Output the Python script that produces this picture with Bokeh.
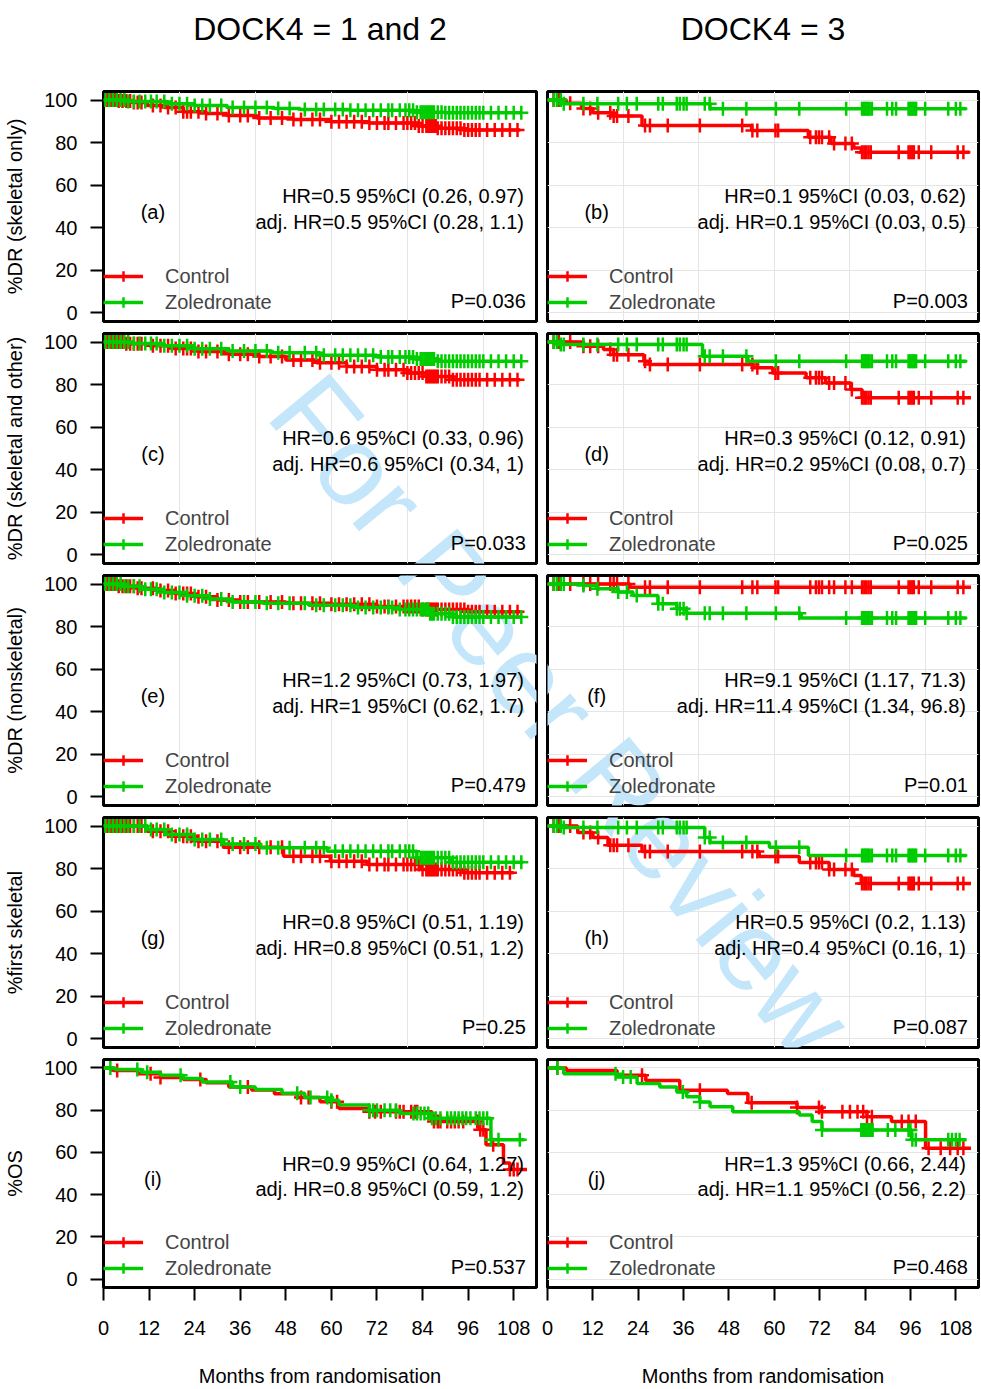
import numpy as np
from bokeh.plotting import figure
from bokeh.layouts import column, row
from bokeh.models import Range1d, Label, FixedTicker
from bokeh.embed import file_html
from bokeh.resources import INLINE

FONT = "Liberation Sans"
RED = "#FF0000"
GREEN = "#00CD00"
WM_COLOR = "#C4E6FA"

X_TICKS = [0, 12, 24, 36, 48, 60, 72, 84, 96, 108]
Y_TICKS = [0, 20, 40, 60, 80, 100]
GROUPS = ["Control", "Zoledronate"]
COL_TITLES = ["DOCK4 = 1 and 2", "DOCK4 = 3"]
ROW_LABELS = ["%DR (skeletal only)", "%DR (skeletal and other)", "%DR (nonskeletal)",
              "%first skeletal", "%OS"]
XLABEL = "Months from randomisation"
LETTERS = ["(a)", "(b)", "(c)", "(d)", "(e)", "(f)", "(g)", "(h)", "(i)", "(j)"]
HR_TEXT = ["HR=0.5 95%CI (0.26, 0.97)", "HR=0.1 95%CI (0.03, 0.62)",
           "HR=0.6 95%CI (0.33, 0.96)", "HR=0.3 95%CI (0.12, 0.91)",
           "HR=1.2 95%CI (0.73, 1.97)", "HR=9.1 95%CI (1.17, 71.3)",
           "HR=0.8 95%CI (0.51, 1.19)", "HR=0.5 95%CI (0.2, 1.13)",
           "HR=0.9 95%CI (0.64, 1.27)", "HR=1.3 95%CI (0.66, 2.44)"]
ADJ_TEXT = ["adj. HR=0.5 95%CI (0.28, 1.1)", "adj. HR=0.1 95%CI (0.03, 0.5)",
            "adj. HR=0.6 95%CI (0.34, 1)", "adj. HR=0.2 95%CI (0.08, 0.7)",
            "adj. HR=1 95%CI (0.62, 1.7)", "adj. HR=11.4 95%CI (1.34, 96.8)",
            "adj. HR=0.8 95%CI (0.51, 1.2)", "adj. HR=0.4 95%CI (0.16, 1)",
            "adj. HR=0.8 95%CI (0.59, 1.2)", "adj. HR=1.1 95%CI (0.56, 2.2)"]
P_TEXT = ["P=0.036", "P=0.003", "P=0.033", "P=0.025", "P=0.479",
          "P=0.01", "P=0.25", "P=0.087", "P=0.537", "P=0.468"]
WATERMARK = "For Peer Review"

# ---- censoring times (months) ----
LEFT_CTRL_CENS = [1, 2, 3, 4, 5, 6, 7, 8, 9, 10, 13, 15, 17, 19, 21, 22, 23, 25, 27, 30, 33,
                  36, 38, 41, 44, 47, 50, 52, 55, 57, 60, 62, 64, 66, 68, 70, 72, 74, 75, 77,
                  79, 80, 81, 82, 83, 84, 85, 85.5, 86, 86.5, 87, 87.5, 88, 89, 90, 91, 92,
                  93, 94, 95, 96, 97, 98, 99, 101, 103, 105, 107, 109]
LEFT_ZOL_CENS = [0.5, 1.5, 2.5, 3.5, 4.5, 5.5, 6.5, 8, 9.5, 11, 12.5, 14, 16, 18, 20, 22, 24,
                 26, 28, 31, 34, 37, 40, 43, 46, 49, 53, 56, 58, 61, 63, 65, 67, 69, 71, 73,
                 75, 76, 78, 79.5, 80.5, 81.5, 82.5, 83.5, 84, 84.5, 85, 85.5, 86, 86.5, 87,
                 88, 89, 90, 91, 92, 93, 94, 95, 96, 97, 98, 99, 100, 102, 104, 106, 108, 110]
RIGHT_CTRL_CENS = [1.6, 3, 6, 9.5, 11.3, 13.4, 16.6, 17.5, 18.4, 21.4, 25.8, 27.1, 31.8, 40.3,
                   51.5, 54.2, 55.5, 60.3, 61, 69.5, 71, 71.8, 72.6, 74.5, 75.8, 78.8, 80.5,
                   83.2, 83.8, 84.3, 84.9, 85.5, 92.9, 95.5, 96, 96.5, 96.9, 98.2, 101.5,
                   108.5, 110]
RIGHT_ZOL_CENS = [1.7, 2.5, 3.5, 4.3, 9.5, 13.2, 18.7, 21, 23.6, 29.3, 30.5, 34.2, 35, 36,
                  36.8, 41.6, 42.9, 46.4, 52.6, 60.4, 66.6, 79, 83.2, 83.6, 84, 84.4, 84.8,
                  85.2, 85.8, 89.8, 91.2, 92.2, 95.5, 95.9, 96.3, 96.7, 97.1, 97.5, 99.9, 106,
                  108, 109.2]
OS_LEFT_CTRL_CENS = [3.6, 12.4, 15, 25.5, 38, 52, 54, 60, 61.5, 70, 71.5, 73, 77, 78, 79, 81,
                     82, 82.6, 87, 88, 88.7, 90.5, 91.5, 92.5, 93.5, 94.7, 98.4, 99.2, 100,
                     102.6, 107, 108, 109]
OS_LEFT_ZOL_CENS = [1.8, 8.9, 11.5, 20.3, 33.4, 36, 51, 54.5, 58.9, 60, 70, 71, 72, 74, 75.5,
                    77, 81.6, 82.5, 83.5, 84.5, 85.5, 86.5, 87.5, 88.7, 90.5, 91.5, 92.5,
                    93.5, 94.5, 95.5, 96.6, 98, 99, 100, 101, 102, 104, 109.6]
OS_RIGHT_CTRL_CENS = [2.6, 25, 40.3, 54, 66, 71.8, 72.6, 78, 80, 82, 83.5, 84.5, 85.8, 93.7,
                      95.5, 97.4, 100.8, 104, 106.5, 108.5, 110]
OS_RIGHT_ZOL_CENS = [2.6, 18, 20, 22, 35.8, 40.3, 72.6, 83, 83.5, 84, 84.5, 85, 85.5, 86, 90,
                     92, 95.5, 96, 96.5, 97.4, 106, 107, 108, 109]

# ---- Kaplan-Meier step values: event times and survival (%) ----
A_CTRL_T = [0, 4, 8, 11.5, 16, 21, 27, 32.5, 40.4, 50, 59.7, 70, 82.6, 88, 94.7]
A_CTRL_S = [100, 99.5, 98.8, 97.4, 96.5, 94.5, 93.7, 92.7, 91.6, 90.8, 89.8, 89.2, 87.8, 86.8, 85.9]
A_ZOL_T = [0, 6, 16.7, 24, 32.5, 45, 51.8, 65, 82, 90]
A_ZOL_S = [100, 99.3, 98.2, 97.4, 96.5, 96, 95.6, 95.2, 94.3, 94]
B_CTRL_T = [0, 5, 9, 12, 17, 25, 54, 69, 75, 81, 83]
B_CTRL_S = [100, 98.5, 96, 94, 92.5, 88, 85.7, 82.5, 79.6, 77.5, 75.5]
B_ZOL_T = [0, 4, 43]
B_ZOL_S = [100, 98.2, 95.9]
C_CTRL_T = [0, 6, 12, 18, 25, 33, 41, 48, 56, 64, 72, 80, 85, 92]
C_CTRL_S = [100, 99.2, 98.3, 97, 95.5, 94.3, 93.2, 91.5, 90.3, 88.5, 87, 85.5, 83.8, 82.3]
C_ZOL_T = [0, 8, 16, 24, 33, 44, 57, 72, 82, 88]
C_ZOL_S = [100, 99.3, 98.2, 96.8, 95.8, 95, 93.8, 93, 92, 91]
D_CTRL_T = [0, 9.5, 14.8, 17.5, 25.5, 27, 54.3, 59.6, 68.4, 73.6, 80.2, 83.2]
D_CTRL_S = [100, 98, 96.5, 94, 91, 89.4, 87.9, 85.5, 83.2, 80.8, 77.7, 73.8]
D_ZOL_T = [0, 3, 41, 53]
D_ZOL_S = [100, 98.8, 93.3, 91]
E_CTRL_T = [0, 4, 9, 14, 19, 24, 30, 36, 48, 60, 72, 84, 96]
E_CTRL_S = [100, 99, 98, 97, 95.5, 94, 92.5, 91.5, 91, 90.5, 89.5, 88, 87]
E_ZOL_T = [0, 5, 10, 16, 22, 28, 34, 42, 54, 66, 78, 86, 92]
E_ZOL_S = [100, 99, 97.5, 96, 94.5, 93, 91.5, 91, 90, 89, 88, 86, 84.5]
F_CTRL_T = [0, 21.8]
F_CTRL_S = [100, 98.5]
F_ZOL_T = [0, 9.5, 13, 18.7, 22.6, 29.2, 34.2, 36.8, 67.1]
F_ZOL_S = [100, 99.3, 97.8, 96.2, 94.6, 90.7, 88.4, 86.3, 84]
G_CTRL_T = [0, 11.5, 17.6, 24.7, 31.6, 47.4, 59.7, 69.4, 83.4, 94.7]
G_CTRL_S = [100, 97.6, 95.2, 92.9, 90, 85.8, 83.5, 81.9, 79.6, 78]
G_ZOL_T = [0, 11.5, 16.4, 23.9, 31.6, 41.3, 58.9, 82.5, 91.3]
G_ZOL_S = [100, 98.4, 96, 93.7, 91.6, 89.8, 88.2, 85.1, 83]
H_CTRL_T = [0, 8, 12, 16, 25, 56, 66.6, 74.5, 81, 83]
H_CTRL_S = [100, 97, 94.6, 91, 88, 85.7, 82.9, 79.6, 76.8, 73]
H_ZOL_T = [0, 4, 41.6, 43, 58.7, 69]
H_ZOL_S = [100, 99.3, 94.6, 92.3, 90, 86.2]
I_CTRL_T = [0, 2.6, 9, 15, 21, 27, 33, 39, 45, 51, 57, 62, 70, 86.5, 99, 100.7, 105.3, 107]
I_CTRL_S = [100, 98.8, 97.3, 95.5, 94.5, 93, 91, 89.5, 87.8, 86, 84, 80.8, 79.3, 74.6, 70.7, 63.6, 55, 51.9]
I_ZOL_T = [0, 3, 10, 15, 21, 26, 34, 40, 47, 53, 59, 62, 70, 78, 86, 102]
I_ZOL_S = [100, 99.3, 98, 96.5, 95, 93.3, 91, 89.8, 88, 86, 84.7, 82.4, 80, 78.4, 76.2, 66]
J_CTRL_T = [0, 5, 18.4, 26, 35, 47.6, 53, 66, 72.6, 84.5, 91, 100]
J_CTRL_S = [100, 98.8, 96.5, 94, 89.4, 87.9, 83.5, 81.3, 79.3, 76.9, 74.6, 62]
J_ZOL_T = [0, 4.3, 18.4, 23.7, 29.7, 34.2, 36.8, 40.3, 43, 49, 66.6, 70, 72.6, 96.3]
J_ZOL_S = [100, 97.3, 95.7, 92.6, 91, 88.6, 86.3, 83.9, 81.6, 79.2, 77.7, 74.6, 70.6, 66]

# follow-up end of each curve (control, zoledronate)
ENDS = [(109.7, 110.2), (111.6, 110.8), (109.7, 110.2), (112, 110.8), (109.7, 110.2),
        (112, 110.8), (108, 110.5), (112, 110.8), (111.5, 110.8), (112, 110.8)]

PANELS = [
    (A_CTRL_T, A_CTRL_S, A_ZOL_T, A_ZOL_S, LEFT_CTRL_CENS, LEFT_ZOL_CENS),
    (B_CTRL_T, B_CTRL_S, B_ZOL_T, B_ZOL_S, RIGHT_CTRL_CENS, RIGHT_ZOL_CENS),
    (C_CTRL_T, C_CTRL_S, C_ZOL_T, C_ZOL_S, LEFT_CTRL_CENS, LEFT_ZOL_CENS),
    (D_CTRL_T, D_CTRL_S, D_ZOL_T, D_ZOL_S, RIGHT_CTRL_CENS, RIGHT_ZOL_CENS),
    (E_CTRL_T, E_CTRL_S, E_ZOL_T, E_ZOL_S, LEFT_CTRL_CENS, LEFT_ZOL_CENS),
    (F_CTRL_T, F_CTRL_S, F_ZOL_T, F_ZOL_S, RIGHT_CTRL_CENS, RIGHT_ZOL_CENS),
    (G_CTRL_T, G_CTRL_S, G_ZOL_T, G_ZOL_S, LEFT_CTRL_CENS, LEFT_ZOL_CENS),
    (H_CTRL_T, H_CTRL_S, H_ZOL_T, H_ZOL_S, RIGHT_CTRL_CENS, RIGHT_ZOL_CENS),
    (I_CTRL_T, I_CTRL_S, I_ZOL_T, I_ZOL_S, OS_LEFT_CTRL_CENS, OS_LEFT_ZOL_CENS),
    (J_CTRL_T, J_CTRL_S, J_ZOL_T, J_ZOL_S, OS_RIGHT_CTRL_CENS, OS_RIGHT_ZOL_CENS),
]

# ---- layout constants (pixels) ----
X_MAX = 114
Y_MIN, Y_MAX = -4, 104
FRAME_H = 230
FRAME_W = [433, 431]
BORDER_L = [103, 6]
BORDER_R = [5, 3]
TITLE_H = 85
TITLE_CY = 28
TOP0, BOT_LAST, GAP = 6, 100, 6
WM_CENTER = (561, 715)
WM_PANELS = [2, 4, 5, 7]


def surv_at(t, s, c):
    idx = np.searchsorted(np.array(t), np.array(c), side="right") - 1
    return np.array(s)[idx]


# ---- column titles, in their own strip figures ----
title_figs = []
for c in range(2):
    w = BORDER_L[c] + FRAME_W[c] + BORDER_R[c]
    tf = figure(width=w, height=TITLE_H, output_backend="svg", toolbar_location=None,
                x_range=Range1d(0, w), y_range=Range1d(0, TITLE_H),
                x_axis_location=None, y_axis_location=None,
                min_border_left=0, min_border_right=0, min_border_top=0, min_border_bottom=0)
    tf.outline_line_color = None
    tf.background_fill_color = "white"
    tf.border_fill_color = "white"
    tf.grid.visible = False
    tf.add_layout(Label(x=BORDER_L[c] + FRAME_W[c] / 2, y=TITLE_H - TITLE_CY,
                        text=COL_TITLES[c], text_align="center", text_baseline="middle",
                        text_font=FONT, text_font_size="32px", text_color="black"))
    title_figs.append(tf)

rows = [row(*title_figs)]
fig_top = TITLE_H
for r in range(5):
    top = TOP0 if r == 0 else GAP
    bot = BOT_LAST if r == 4 else GAP
    h = top + FRAME_H + bot
    figs = []
    fig_left = 0
    for c in range(2):
        k = 2 * r + c
        w = BORDER_L[c] + FRAME_W[c] + BORDER_R[c]
        p = figure(width=w, height=h, output_backend="svg", toolbar_location=None,
                   x_range=Range1d(0, X_MAX), y_range=Range1d(Y_MIN, Y_MAX),
                   x_axis_location="below" if r == 4 else None,
                   y_axis_location="left" if c == 0 else None,
                   min_border_left=BORDER_L[c], min_border_right=BORDER_R[c],
                   min_border_top=top, min_border_bottom=bot)
        p.outline_line_color = "black"
        p.outline_line_width = 3
        p.background_fill_color = "white"
        p.border_fill_color = "white"
        if c == 0:
            ax = p.yaxis[0]
            ax.ticker = FixedTicker(ticks=Y_TICKS)
            ax.axis_label = ROW_LABELS[r]
            ax.axis_label_standoff = 15
            ax.major_label_standoff = 13
            p.ygrid.grid_line_color = None
        if r == 4:
            ax = p.xaxis[0]
            ax.ticker = FixedTicker(ticks=X_TICKS)
            ax.axis_label = XLABEL
            ax.axis_label_standoff = 27
            ax.major_label_standoff = 20
            p.xgrid.grid_line_color = None
        for ax in p.axis:
            ax.axis_line_color = None
            ax.major_tick_out = 13
            ax.major_tick_in = 0
            ax.minor_tick_out = 0
            ax.minor_tick_in = 0
            ax.major_tick_line_width = 2
            ax.major_label_text_font = FONT
            ax.major_label_text_font_size = "20px"
            ax.major_label_text_color = "black"
            ax.axis_label_text_font = FONT
            ax.axis_label_text_font_size = "20px"
            ax.axis_label_text_font_style = "normal"
            ax.axis_label_text_color = "black"

        ct, cs, zt, zs, cc, zc = PANELS[k]
        ends = ENDS[k]
        # watermark (underneath the curves)
        if k in WM_PANELS:
            fl = fig_left + BORDER_L[c]
            ft = fig_top + top
            wx = (WM_CENTER[0] - fl) * X_MAX / FRAME_W[c]
            wy = Y_MAX - (WM_CENTER[1] - ft) * (Y_MAX - Y_MIN) / FRAME_H
            p.add_layout(Label(x=wx, y=wy, text=WATERMARK, angle=-50.5, angle_units="deg",
                               text_align="center", text_baseline="middle",
                               text_font=FONT, text_font_size="113px",
                               text_color=WM_COLOR, level="underlay"))
        for (t, s, cen, end, color, name) in [(ct, cs, cc, ends[0], RED, GROUPS[0]),
                                               (zt, zs, zc, ends[1], GREEN, GROUPS[1])]:
            xs = list(t) + [end]
            ys = list(s) + [s[-1]]
            p.step(x=xs, y=ys, mode="after", line_color=color, line_width=3.5,
                   legend_label=name)
            cen_in = [v for v in cen if v <= end]
            p.scatter(x=cen_in, y=surv_at(t, s, cen_in), marker="cross", size=14,
                      line_color=color, line_width=2.5, legend_label=name)

        for (txt, x, y, align) in [(HR_TEXT[k], 110.7, 54.7, "right"),
                                   (ADJ_TEXT[k], 110.7, 42.5, "right"),
                                   (LETTERS[k], 13, 47.6, "center"),
                                   (P_TEXT[k], 111.2, 5.5, "right")]:
            p.add_layout(Label(x=x, y=y, text=txt, text_align=align, text_baseline="middle",
                               text_font=FONT, text_font_size="20px", text_color="black"))

        leg = p.legend[0]
        leg.location = (0, 6)
        leg.margin = 0
        leg.padding = 4
        leg.spacing = 0
        leg.glyph_width = 40
        leg.glyph_height = 26
        leg.label_height = 26
        leg.label_standoff = 22
        leg.label_text_font = FONT
        leg.label_text_font_size = "20px"
        leg.background_fill_alpha = 0
        leg.border_line_color = None
        figs.append(p)
        fig_left += w
    rows.append(row(*figs))
    fig_top += h

layout = column(*rows)
open("out.html", "w").write(file_html(layout, INLINE))
